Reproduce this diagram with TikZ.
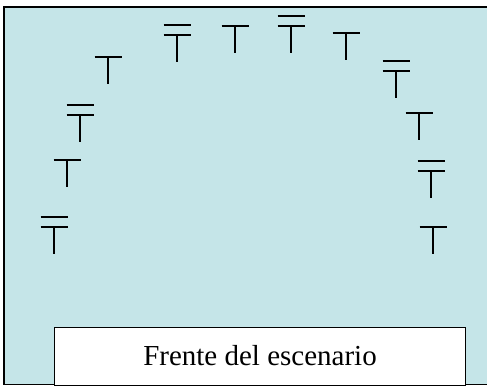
\documentclass[tikz,border=0pt]{standalone}
\usepackage{fontspec}
\setmainfont{Liberation Serif}
\usetikzlibrary{positioning}

\definecolor{stageblue}{RGB}{197,229,232}

\begin{document}
\begin{tikzpicture}[x=1pt,y=-1pt,
    mark t/.pic={\draw[line width=1.6pt] (-13.5,0) -- (13.5,0) (0,0) -- (0,27);},
    mark tt/.pic={\draw[line width=1.6pt] (-13.5,-10) -- (13.5,-10) (-13.5,0) -- (13.5,0) (0,0) -- (0,27);}]

\useasboundingbox (0,0) rectangle (487,386);

% room
\draw[line width=1.6pt, fill=stageblue] (4,7) rectangle (492,384.5);

% single stands
\foreach \px/\py [count=\i] in {108/57, 235/26, 346/33, 419/113, 67/160, 433/227}
  \pic (t\i) at (\px,\py) {mark t};

% double stands
\foreach \px/\py [count=\i] in {80/115, 177/35, 291/26, 396/71, 431/171, 54/227}
  \pic (tt\i) at (\px,\py) {mark tt};

% stage front
\node[draw, fill=white, line width=1pt, minimum width=411pt, minimum height=58pt,
    anchor=north west, inner sep=0pt, font=\fontsize{29}{34}\selectfont] (stage) at (54,326.5)
    {Frente del escenario};

\end{tikzpicture}
\end{document}
